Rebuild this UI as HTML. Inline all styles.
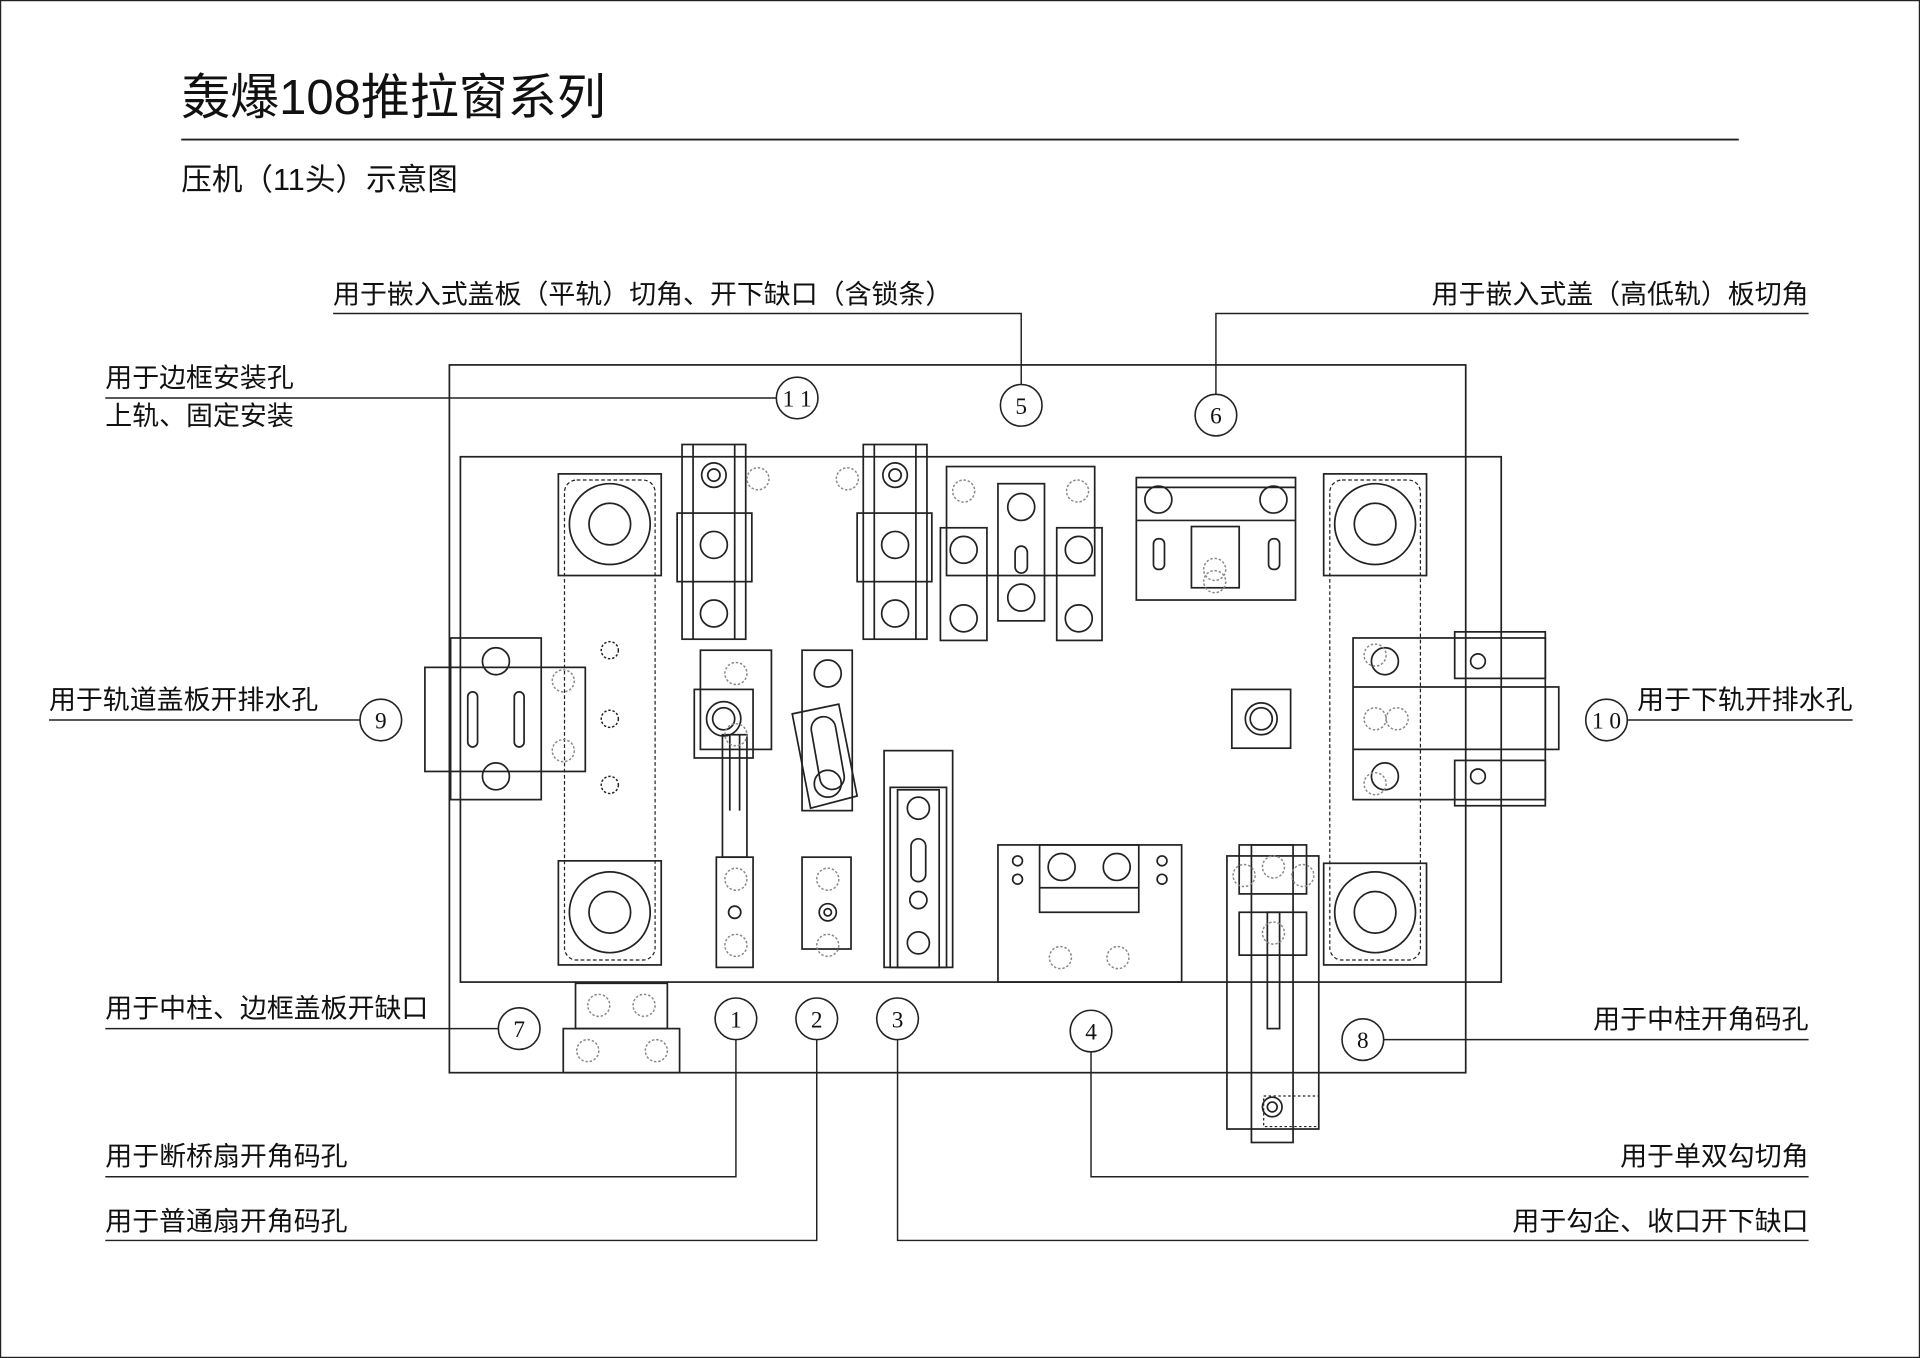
<!DOCTYPE html>
<html><head><meta charset="utf-8"><style>
html,body{margin:0;padding:0;background:#fff;}
svg{display:block;}
text{font-family:"Liberation Sans","Noto Sans CJK SC",sans-serif;fill:#111;}
.n{font-family:"Liberation Serif","Noto Serif CJK SC",serif;font-size:19px;text-anchor:middle;}
</style></head><body>
<svg width="1920" height="1358" viewBox="0 0 1568 1109" preserveAspectRatio="none" xmlns="http://www.w3.org/2000/svg">
<rect x="0.5" y="0.5" width="1567" height="1108" fill="#fff" stroke="#222" stroke-width="1"/>
<text x="148" y="93" font-size="40">轰爆108推拉窗系列</text>
<line x1="148" y1="114" x2="1420" y2="114" stroke="#222" stroke-width="1.5"/>
<text x="148" y="155" font-size="25">压机（11头）示意图</text>

<g font-size="22">
<text x="272" y="248">用于嵌入式盖板（平轨）切角、开下缺口（含锁条）</text>
<text x="1477" y="248" text-anchor="end">用于嵌入式盖（高低轨）板切角</text>
<text x="86" y="316">用于边框安装孔</text>
<text x="86" y="347">上轨、固定安装</text>
<text x="40" y="579">用于轨道盖板开排水孔</text>
<text x="1337" y="579">用于下轨开排水孔</text>
<text x="86" y="831">用于中柱、边框盖板开缺口</text>
<text x="1477" y="840" text-anchor="end">用于中柱开角码孔</text>
<text x="86" y="952">用于断桥扇开角码孔</text>
<text x="86" y="1005">用于普通扇开角码孔</text>
<text x="1477" y="952" text-anchor="end">用于单双勾切角</text>
<text x="1477" y="1005" text-anchor="end">用于勾企、收口开下缺口</text>
</g>

<g fill="none" stroke="#222" stroke-width="1.2">
<polyline points="272,256 834,256 834,314"/>
<polyline points="1477,256 993,256 993,322"/>
<line x1="86" y1="325" x2="634" y2="325"/>
<line x1="40" y1="588" x2="294" y2="588"/>
<line x1="1329" y1="588" x2="1513" y2="588"/>
<line x1="86" y1="840" x2="407" y2="840"/>
<line x1="1130" y1="849" x2="1477" y2="849"/>
<polyline points="601,849 601,961 86,961"/>
<polyline points="667,849 667,1013 86,1013"/>
<polyline points="733,849 733,1013 1477,1013"/>
<polyline points="891,859 891,961 1477,961"/>
</g>

<g fill="#fff" stroke="#222" stroke-width="1.4">
<rect x="367" y="298" width="830" height="578" fill="none"/>
<rect x="376" y="373" width="850" height="429" fill="none"/>
<rect x="461" y="392" width="74" height="392" rx="10" fill="none" stroke-dasharray="3,2" stroke-width="1"/>
<rect x="1086" y="392" width="74" height="392" rx="10" fill="none" stroke-dasharray="3,2" stroke-width="1"/>
<rect x="456" y="387" width="84" height="83" fill="none"/><circle cx="498" cy="428" r="33" fill="none"/><circle cx="498" cy="428" r="17" fill="none"/>
<rect x="456" y="703" width="84" height="85" fill="none"/><circle cx="498" cy="745" r="33" fill="none"/><circle cx="498" cy="745" r="17" fill="none"/>
<rect x="1081" y="387" width="84" height="83" fill="none"/><circle cx="1123" cy="428" r="33" fill="none"/><circle cx="1123" cy="428" r="17" fill="none"/>
<rect x="1081" y="705" width="84" height="83" fill="none"/><circle cx="1123" cy="745" r="33" fill="none"/><circle cx="1123" cy="745" r="17" fill="none"/>
<rect x="347" y="545" width="131" height="85" fill="none"/>
<rect x="368" y="521" width="74" height="132" fill="none"/>
<circle cx="405" cy="540" r="11" fill="none"/><circle cx="405" cy="634" r="11" fill="none"/>
<rect x="382" y="565" width="8" height="45" rx="4" fill="none"/><rect x="420" y="565" width="8" height="45" rx="4" fill="none"/>
<rect x="1105" y="521" width="157" height="132" fill="none"/>
<rect x="1188" y="516" width="74" height="38" fill="none"/>
<rect x="1188" y="621" width="74" height="37" fill="none"/>
<rect x="1262" y="561" width="11" height="51" fill="none"/>
<line x1="1105" y1="561" x2="1262" y2="561"/><line x1="1105" y1="612" x2="1262" y2="612"/>
<circle cx="1131" cy="540" r="11" fill="none"/><circle cx="1131" cy="634" r="11" fill="none"/>
<circle cx="1207" cy="540" r="6" fill="none"/><circle cx="1207" cy="634" r="6" fill="none"/>
<rect x="557" y="363" width="52" height="159" fill="none"/><line x1="566" y1="363" x2="566" y2="522"/><line x1="600" y1="363" x2="600" y2="522"/>
<rect x="553" y="419" width="61" height="56" fill="none"/>
<circle cx="583" cy="388" r="10" fill="none"/><circle cx="583" cy="388" r="5" fill="none"/>
<circle cx="583" cy="445" r="11" fill="none"/><circle cx="583" cy="501" r="11" fill="none"/>
<rect x="705" y="363" width="52" height="159" fill="none"/><line x1="714" y1="363" x2="714" y2="522"/><line x1="748" y1="363" x2="748" y2="522"/>
<rect x="700" y="419" width="61" height="56" fill="none"/>
<circle cx="731" cy="388" r="10" fill="none"/><circle cx="731" cy="388" r="5" fill="none"/>
<circle cx="731" cy="445" r="11" fill="none"/><circle cx="731" cy="501" r="11" fill="none"/>
<rect x="773" y="381" width="121" height="89" fill="none"/>
<rect x="768" y="431" width="38" height="92" fill="none"/>
<rect x="863" y="431" width="37" height="92" fill="none"/>
<rect x="815" y="395" width="38" height="112" fill="none"/>
<circle cx="787" cy="449" r="11" fill="none"/><circle cx="787" cy="505" r="11" fill="none"/>
<circle cx="881" cy="449" r="11" fill="none"/><circle cx="881" cy="505" r="11" fill="none"/>
<circle cx="834" cy="414" r="11" fill="none"/><circle cx="834" cy="488" r="11" fill="none"/>
<rect x="829" y="446" width="10" height="22" rx="5" fill="none"/>
<rect x="928" y="390" width="130" height="100" fill="none"/>
<line x1="928" y1="398" x2="1058" y2="398"/><line x1="928" y1="425" x2="1058" y2="425"/>
<circle cx="946" cy="408" r="11" fill="none"/><circle cx="1040" cy="408" r="11" fill="none"/>
<rect x="942" y="440" width="9" height="25" rx="4" fill="none"/><rect x="1036" y="440" width="9" height="25" rx="4" fill="none"/>
<rect x="973" y="430" width="39" height="50" fill="none"/>
<rect x="572" y="531" width="58" height="81" fill="none"/>
<rect x="567" y="563" width="48" height="56" fill="none"/>
<circle cx="591" cy="587" r="14" fill="none"/><circle cx="591" cy="587" r="9" fill="none"/>
<rect x="590" y="600" width="20" height="100" fill="none"/><line x1="596" y1="600" x2="596" y2="662"/><line x1="604" y1="600" x2="604" y2="662"/>
<rect x="585" y="700" width="30" height="90" fill="none"/>
<circle cx="600" cy="745" r="5" fill="none"/>
<rect x="655" y="531" width="41" height="131" fill="none"/>
<circle cx="676" cy="550" r="11" fill="none"/>
<polygon points="647,583 685,575 700,650 662,660" fill="none"/>
<rect x="666" y="585" width="20" height="60" rx="10" fill="none" transform="rotate(-10 676 615)"/>
<circle cx="676" cy="640" r="11" fill="none"/>
<rect x="655" y="700" width="40" height="75" fill="none"/>
<circle cx="676" cy="745" r="7" fill="none"/><circle cx="676" cy="745" r="3" fill="none"/>
<rect x="722" y="613" width="56" height="177" fill="none"/>
<rect x="727" y="643" width="46" height="147" fill="none"/>
<rect x="733" y="645" width="34" height="145" fill="none"/>
<circle cx="750" cy="660" r="9" fill="none"/><circle cx="750" cy="770" r="9" fill="none"/>
<rect x="744" y="685" width="12" height="35" rx="6" fill="none"/>
<circle cx="750" cy="735" r="7" fill="none"/>
<rect x="1006" y="563" width="48" height="48" fill="none"/><circle cx="1030" cy="587" r="13" fill="none"/><circle cx="1030" cy="587" r="9" fill="none"/>
<rect x="815" y="690" width="150" height="112" fill="none"/>
<rect x="849" y="690" width="81" height="55" fill="none"/>
<line x1="849" y1="725" x2="930" y2="725"/>
<circle cx="867" cy="708" r="11" fill="none"/><circle cx="912" cy="708" r="11" fill="none"/>
<circle cx="831" cy="703" r="4" fill="none"/><circle cx="831" cy="718" r="4" fill="none"/>
<circle cx="949" cy="703" r="4" fill="none"/><circle cx="949" cy="718" r="4" fill="none"/>
<rect x="1002" y="699" width="75" height="223" fill="none"/>
<rect x="1012" y="690" width="55" height="40" fill="none"/>
<rect x="1022" y="690" width="34" height="243" fill="none"/>
<rect x="1012" y="745" width="55" height="35" fill="none"/>
<rect x="1035" y="745" width="10" height="95" fill="none"/>
<circle cx="1039" cy="904" r="8" fill="none"/><circle cx="1039" cy="904" r="4" fill="none"/>
<rect x="1032" y="895" width="45" height="25" fill="none" stroke-dasharray="2,2" stroke-width="1"/>
<rect x="470" y="803" width="75" height="37" fill="none"/>
<rect x="460" y="840" width="95" height="36" fill="none"/>
</g>

<g fill="none" stroke="#888" stroke-width="1.2" stroke-dasharray="2,1.5">
<circle cx="498" cy="531" r="7" stroke="#222"/><circle cx="498" cy="587" r="7" stroke="#222"/><circle cx="498" cy="641" r="7" stroke="#222"/>
<circle cx="619" cy="391" r="9"/><circle cx="692" cy="391" r="9"/><circle cx="787" cy="401" r="9"/><circle cx="880" cy="401" r="9"/>
<circle cx="460" cy="556" r="9"/><circle cx="460" cy="613" r="9"/>
<circle cx="601" cy="550" r="9"/><circle cx="601" cy="600" r="9"/><circle cx="601" cy="718" r="9"/><circle cx="601" cy="772" r="9"/>
<circle cx="676" cy="718" r="9"/><circle cx="676" cy="772" r="9"/>
<circle cx="992" cy="465" r="9"/><circle cx="992" cy="475" r="9"/>
<circle cx="1123" cy="587" r="9"/><circle cx="1141" cy="587" r="9"/><circle cx="1123" cy="535" r="9"/><circle cx="1123" cy="640" r="9"/>
<circle cx="866" cy="782" r="9"/><circle cx="913" cy="782" r="9"/>
<circle cx="1016" cy="715" r="9"/><circle cx="1040" cy="708" r="9"/><circle cx="1064" cy="715" r="9"/><circle cx="1040" cy="762" r="9"/>
<circle cx="489" cy="821" r="9"/><circle cx="526" cy="821" r="9"/><circle cx="480" cy="858" r="9"/><circle cx="536" cy="858" r="9"/>
</g>

<g fill="#fff" stroke="#222" stroke-width="1.3">
<circle cx="651" cy="325" r="17"/><circle cx="834" cy="331" r="17"/><circle cx="993" cy="339" r="17"/>
<circle cx="311" cy="588" r="17"/><circle cx="1312" cy="588" r="17"/>
<circle cx="424" cy="840" r="17"/><circle cx="1113" cy="849" r="17"/>
<circle cx="601" cy="832" r="17"/><circle cx="667" cy="832" r="17"/><circle cx="733" cy="832" r="17"/><circle cx="891" cy="842" r="17"/>
</g>
<g class="n">
<text class="n" x="651" y="332">1 1</text><text class="n" x="834" y="338">5</text><text class="n" x="993" y="346">6</text>
<text class="n" x="311" y="595">9</text><text class="n" x="1312" y="595">1 0</text>
<text class="n" x="424" y="847">7</text><text class="n" x="1113" y="856">8</text>
<text class="n" x="601" y="839">1</text><text class="n" x="667" y="839">2</text><text class="n" x="733" y="839">3</text><text class="n" x="891" y="849">4</text>
</g>
</svg>
</body></html>
